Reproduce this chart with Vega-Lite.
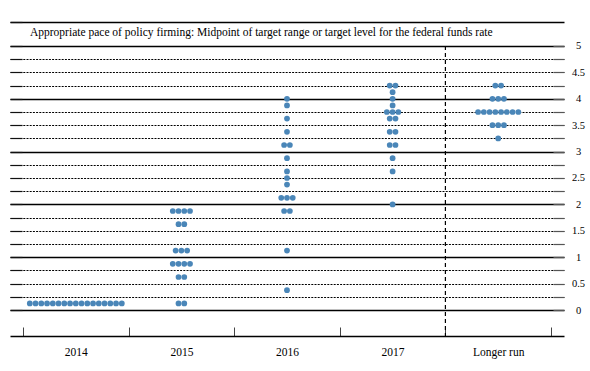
{
  "$schema": "https://vega.github.io/schema/vega-lite/v6.json",
  "width": 554,
  "height": 314,
  "autosize": "none",
  "padding": {"left": 10, "top": 22, "right": 26, "bottom": 35},
  "config": {
    "view": {"stroke": null},
    "font": "Liberation Serif",
    "axis": {"labelFont": "Liberation Serif", "titleFont": "Liberation Serif"}
  },
  "data": {
    "values": [
      {"year": "2014", "rate": 0.125}, {"year": "2014", "rate": 0.125}, {"year": "2014", "rate": 0.125}, {"year": "2014", "rate": 0.125},
      {"year": "2014", "rate": 0.125}, {"year": "2014", "rate": 0.125}, {"year": "2014", "rate": 0.125}, {"year": "2014", "rate": 0.125},
      {"year": "2014", "rate": 0.125}, {"year": "2014", "rate": 0.125}, {"year": "2014", "rate": 0.125}, {"year": "2014", "rate": 0.125},
      {"year": "2014", "rate": 0.125}, {"year": "2014", "rate": 0.125}, {"year": "2014", "rate": 0.125}, {"year": "2014", "rate": 0.125},
      {"year": "2014", "rate": 0.125},
      {"year": "2015", "rate": 1.875}, {"year": "2015", "rate": 1.875}, {"year": "2015", "rate": 1.875}, {"year": "2015", "rate": 1.875},
      {"year": "2015", "rate": 1.625}, {"year": "2015", "rate": 1.625},
      {"year": "2015", "rate": 1.125}, {"year": "2015", "rate": 1.125}, {"year": "2015", "rate": 1.125},
      {"year": "2015", "rate": 0.875}, {"year": "2015", "rate": 0.875}, {"year": "2015", "rate": 0.875}, {"year": "2015", "rate": 0.875},
      {"year": "2015", "rate": 0.625}, {"year": "2015", "rate": 0.625},
      {"year": "2015", "rate": 0.125}, {"year": "2015", "rate": 0.125},
      {"year": "2016", "rate": 4.0}, {"year": "2016", "rate": 3.875}, {"year": "2016", "rate": 3.625}, {"year": "2016", "rate": 3.375},
      {"year": "2016", "rate": 3.125}, {"year": "2016", "rate": 3.125}, {"year": "2016", "rate": 2.875}, {"year": "2016", "rate": 2.625},
      {"year": "2016", "rate": 2.5}, {"year": "2016", "rate": 2.375},
      {"year": "2016", "rate": 2.125}, {"year": "2016", "rate": 2.125}, {"year": "2016", "rate": 2.125},
      {"year": "2016", "rate": 1.875}, {"year": "2016", "rate": 1.875}, {"year": "2016", "rate": 1.125}, {"year": "2016", "rate": 0.375},
      {"year": "2017", "rate": 4.25}, {"year": "2017", "rate": 4.25}, {"year": "2017", "rate": 4.125}, {"year": "2017", "rate": 4.0},
      {"year": "2017", "rate": 3.875}, {"year": "2017", "rate": 3.75}, {"year": "2017", "rate": 3.75}, {"year": "2017", "rate": 3.75},
      {"year": "2017", "rate": 3.625}, {"year": "2017", "rate": 3.625}, {"year": "2017", "rate": 3.375}, {"year": "2017", "rate": 3.375},
      {"year": "2017", "rate": 3.125}, {"year": "2017", "rate": 3.125}, {"year": "2017", "rate": 2.875}, {"year": "2017", "rate": 2.625},
      {"year": "2017", "rate": 2.0},
      {"year": "Longer run", "rate": 4.25}, {"year": "Longer run", "rate": 4.25},
      {"year": "Longer run", "rate": 4.0}, {"year": "Longer run", "rate": 4.0}, {"year": "Longer run", "rate": 4.0},
      {"year": "Longer run", "rate": 3.75}, {"year": "Longer run", "rate": 3.75}, {"year": "Longer run", "rate": 3.75}, {"year": "Longer run", "rate": 3.75},
      {"year": "Longer run", "rate": 3.75}, {"year": "Longer run", "rate": 3.75}, {"year": "Longer run", "rate": 3.75}, {"year": "Longer run", "rate": 3.75},
      {"year": "Longer run", "rate": 3.5}, {"year": "Longer run", "rate": 3.5}, {"year": "Longer run", "rate": 3.5},
      {"year": "Longer run", "rate": 3.25}
    ]
  },
  "layer": [
    {
      "transform": [
        {"window": [{"op": "row_number", "as": "k"}, {"op": "count", "as": "n"}], "groupby": ["year", "rate"], "frame": [null, null]},
        {"calculate": "datum.k - (datum.n + 1) / 2", "as": "off"}
      ],
      "mark": {"type": "circle", "size": 33, "opacity": 1, "color": "#4a86b8"},
      "encoding": {
        "x": {
          "field": "year", "type": "nominal",
          "scale": {"domain": ["2014", "2015", "2016", "2017", "Longer run"], "paddingInner": 0, "paddingOuter": 0.123},
          "axis": {
            "orient": "bottom", "title": null, "labelAngle": 0, "tickBand": "extent",
            "tickSize": -9, "tickColor": "#444", "tickWidth": 1,
            "domainColor": "#000", "domainWidth": 1.3,
            "labelFontSize": 11.5, "labelColor": "#000", "labelPadding": 19,
            "labelFont": "Liberation Serif"
          }
        },
        "xOffset": {
          "field": "off", "type": "quantitative",
          "scale": {"domain": [-9, 9], "range": [1.05, 104.55]}
        },
        "y": {
          "field": "rate", "type": "quantitative",
          "scale": {"domain": [-0.4924, 5.4545], "nice": false, "zero": false},
          "axis": {
            "orient": "left", "title": null, "labels": false, "domain": false,
            "values": [0, 0.25, 0.5, 0.75, 1, 1.25, 1.5, 1.75, 2, 2.25, 2.5, 2.75, 3, 3.25, 3.5, 3.75, 4, 4.25, 4.5, 4.75, 5, 5.4545],
            "tickSize": -12, "tickColor": "#111", "tickWidth": 1.2,
            "grid": true, "gridColor": "#000",
            "gridDash": {"condition": {"test": "datum.value % 1 === 0 || datum.value > 5.1", "value": []}, "value": [2, 1.2]},
            "gridWidth": {"condition": {"test": "datum.value % 1 === 0 || datum.value > 5.1", "value": 1.3}, "value": 1},
            "gridOpacity": 1
          }
        }
      }
    },
    {
      "data": {"values": [{"label": "Appropriate pace of policy firming: Midpoint of target range or target level for the federal funds rate"}]},
      "mark": {"type": "text", "align": "left", "baseline": "middle", "dx": 7, "fontSize": 11.5, "font": "Liberation Serif", "color": "#000"},
      "encoding": {
        "text": {"field": "label"},
        "x": {"datum": "2014", "type": "nominal", "bandPosition": 0},
        "y": {
          "datum": 5.246, "type": "quantitative",
          "axis": {
            "orient": "right", "title": null, "domain": false, "grid": false,
            "values": [0, 0.25, 0.5, 0.75, 1, 1.25, 1.5, 1.75, 2, 2.25, 2.5, 2.75, 3, 3.25, 3.5, 3.75, 4, 4.25, 4.5, 4.75, 5],
            "labelExpr": "datum.value % 0.5 === 0 ? format(datum.value, '~g') : ''",
            "tickSize": -11, "tickColor": "#555", "tickWidth": 1.2,
            "labelAlign": "center", "labelPadding": 25, "labelFontSize": 10.5, "labelColor": "#000",
            "labelFont": "Liberation Serif"
          }
        }
      }
    },
    {
      "data": {"values": [{"boundary": "Longer run"}]},
      "mark": {"type": "rule", "color": "#000", "strokeWidth": 1.2, "strokeDash": [4, 3]},
      "encoding": {
        "x": {"field": "boundary", "type": "nominal", "bandPosition": 0},
        "y": {"datum": 5, "type": "quantitative", "axis": null},
        "y2": {"datum": -0.4924}
      }
    }
  ],
  "resolve": {"axis": {"y": "independent"}}
}
